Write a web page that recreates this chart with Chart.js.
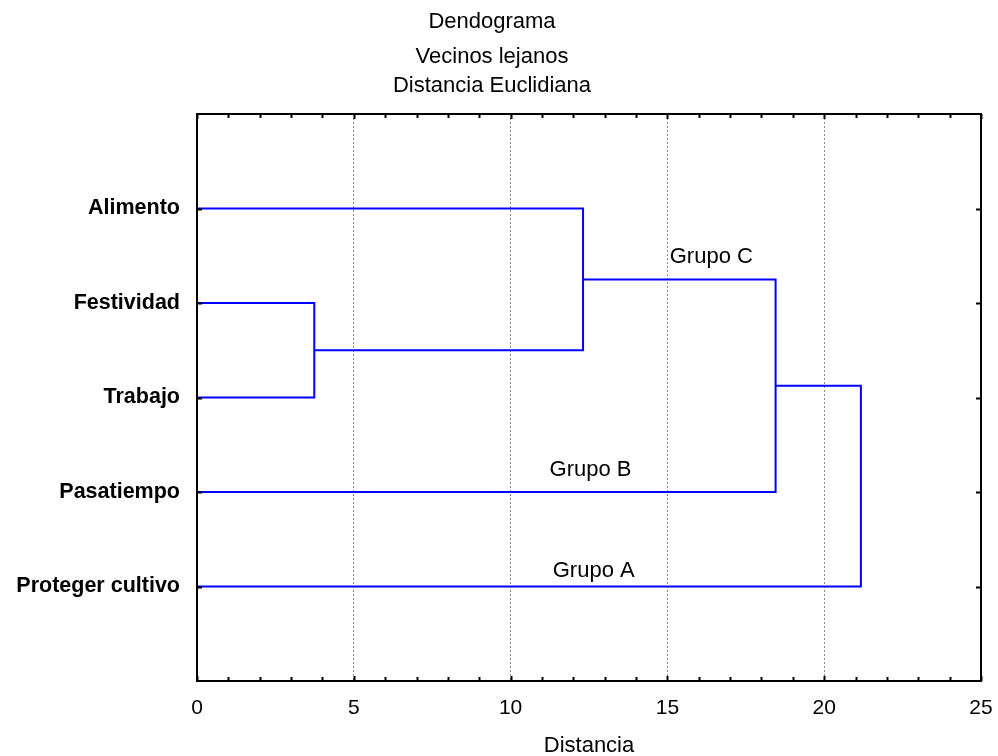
<!DOCTYPE html>
<html>
<head>
<meta charset="utf-8">
<script src="https://cdn.jsdelivr.net/npm/chart.js@4/dist/chart.umd.min.js"></script>
<style>
  html, body { margin: 0; padding: 0; background: #ffffff; }
  #wrap { width: 998px; height: 756px; position: relative; }
</style>
</head>
<body>
<div id="wrap"><canvas id="c" width="998" height="756"></canvas></div>
<script>
// ---- Data ----
const titleLines = ['Dendograma', 'Vecinos lejanos', 'Distancia Euclidiana'];
const xAxisTitle = 'Distancia';
const leaves = ['Alimento', 'Festividad', 'Trabajo', 'Pasatiempo', 'Proteger cultivo'];
const leafPositions = [1, 2, 3, 4, 5];
// merges: cluster ids 0..4 are leaves, each merge creates id 5,6,7,8
const mergeLeft = [1, 0, 6, 7];
const mergeRight = [2, 5, 3, 4];
const mergeHeights = [3.74, 12.31, 18.45, 21.17];
const groupLabels = ['Grupo C', 'Grupo B', 'Grupo A'];
const groupLabelX = [16.40, 12.55, 12.65];
const groupLabelY = [1.515, 3.765, 4.84];
const xTickValues = [0, 5, 10, 15, 20, 25];

// ---- Build dendrogram segments from merges ----
const nodeY = leafPositions.slice();
const nodeH = leaves.map(() => 0);
const datasets = [];
for (let i = 0; i < mergeHeights.length; i++) {
  const a = mergeLeft[i], b = mergeRight[i], h = mergeHeights[i];
  datasets.push({
    data: [
      { x: nodeH[a], y: nodeY[a] },
      { x: h, y: nodeY[a] },
      { x: h, y: nodeY[b] },
      { x: nodeH[b], y: nodeY[b] }
    ],
    showLine: true,
    borderColor: '#0000FF',
    borderWidth: 2,
    pointRadius: 0,
    tension: 0,
    fill: false
  });
  nodeY.push((nodeY[a] + nodeY[b]) / 2);
  nodeH.push(h);
}

const FONT = "'Liberation Sans', Arial, Helvetica, sans-serif";

const decorPlugin = {
  id: 'decor',
  afterDraw(chart) {
    const ctx = chart.ctx;
    const xs = chart.scales.x, ys = chart.scales.y;
    const ca = chart.chartArea;
    ctx.save();
    // frame
    ctx.strokeStyle = '#000';
    ctx.lineWidth = 2;
    ctx.strokeRect(ca.left, ca.top, ca.right - ca.left, ca.bottom - ca.top);
    // x ticks (inner) top & bottom
    for (let v = 0; v <= 25; v++) {
      const px = Math.round(xs.getPixelForValue(v)) + 0.5;
      const len = (v % 5 === 0) ? 5 : 4;
      ctx.beginPath();
      ctx.moveTo(px, ca.bottom); ctx.lineTo(px, ca.bottom - len);
      ctx.moveTo(px, ca.top); ctx.lineTo(px, ca.top + len);
      ctx.stroke();
    }
    // y ticks (inner) left & right
    leafPositions.forEach(p => {
      const py = Math.round(ys.getPixelForValue(p)) + 0.5;
      ctx.beginPath();
      ctx.moveTo(ca.left, py); ctx.lineTo(ca.left + 5, py);
      ctx.moveTo(ca.right, py); ctx.lineTo(ca.right - 5, py);
      ctx.stroke();
    });
    // group labels
    ctx.fillStyle = '#000';
    ctx.font = '22px ' + FONT;
    ctx.textAlign = 'center';
    ctx.textBaseline = 'middle';
    groupLabels.forEach((t, i) => {
      ctx.fillText(t, xs.getPixelForValue(groupLabelX[i]), ys.getPixelForValue(groupLabelY[i]));
    });
    // titles
    const titleY = [22, 57, 86];
    titleLines.forEach((t, i) => {
      ctx.fillText(t, 492, titleY[i]);
    });
    ctx.restore();
  }
};

new Chart(document.getElementById('c'), {
  type: 'scatter',
  data: { datasets },
  options: {
    responsive: false,
    animation: false,
    devicePixelRatio: 1,
    layout: { padding: { left: 0, right: 0, top: 114, bottom: 0 } },
    plugins: {
      legend: { display: false },
      tooltip: { enabled: false },
      title: { display: false }
    },
    scales: {
      x: {
        type: 'linear',
        min: 0,
        max: 25,
        afterBuildTicks(scale) { scale.ticks = xTickValues.map(v => ({ value: v })); },
        afterFit(scale) {
          scale.height = 75;
          scale.paddingRight = 17;
          scale.paddingLeft = 0;
        },
        ticks: {
          color: '#000',
          font: { family: FONT, size: 21 },
          padding: 15,
          maxRotation: 0,
          autoSkip: false
        },
        grid: {
          drawTicks: false,
          color: ctx => (ctx.tick && ctx.tick.value > 0 && ctx.tick.value < 25) ? '#888888' : 'rgba(0,0,0,0)',
          lineWidth: 1
        },
        border: { display: false, dash: [2, 2] },
        title: {
          display: true,
          text: xAxisTitle,
          color: '#000',
          font: { family: FONT, size: 22, lineHeight: 1 },
          padding: { top: 0, bottom: -1 }
        }
      },
      y: {
        type: 'linear',
        min: 0,
        max: 6,
        reverse: true,
        afterBuildTicks(scale) { scale.ticks = leafPositions.map(v => ({ value: v })); },
        afterFit(scale) { scale.width = 197; },
        ticks: {
          color: '#000',
          font: { family: FONT, size: 21.5, weight: 'bold' },
          padding: 17,
          autoSkip: false,
          callback: (v) => leaves[leafPositions.indexOf(v)] || ''
        },
        grid: { display: false, drawTicks: false },
        border: { display: false }
      }
    }
  },
  plugins: [decorPlugin]
});
</script>
</body>
</html>
